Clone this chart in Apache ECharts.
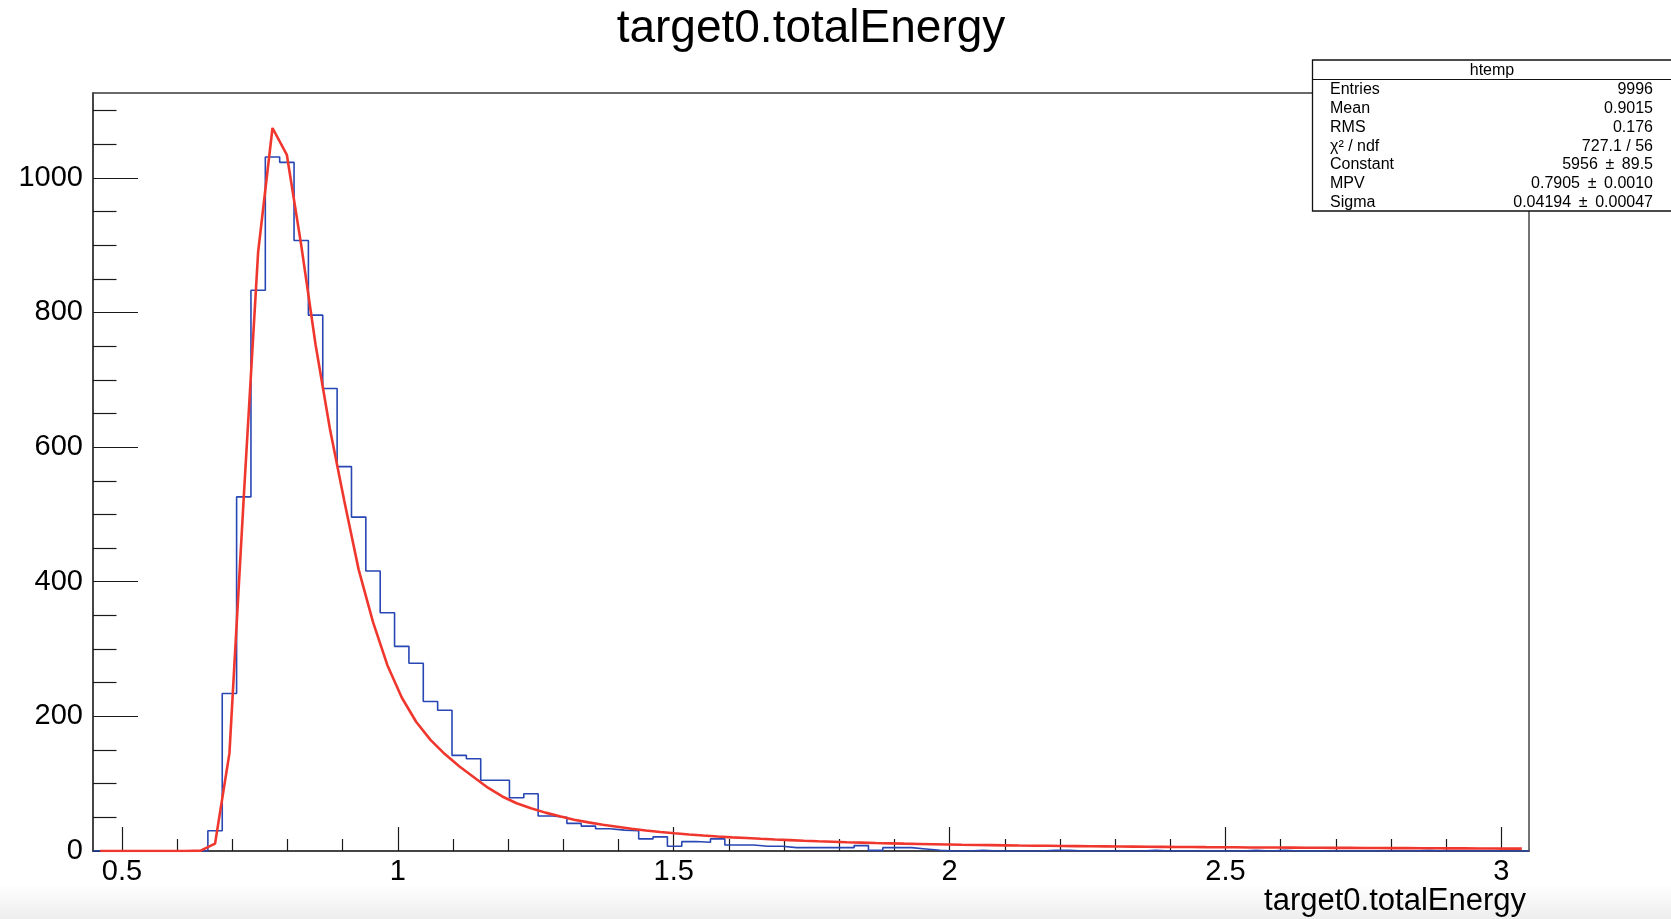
<!DOCTYPE html>
<html>
<head>
<meta charset="utf-8">
<title>target0.totalEnergy</title>
<script src="https://cdn.jsdelivr.net/npm/echarts@6/dist/echarts.min.js"></script>
<style>
  html, body { margin: 0; padding: 0; background: #ffffff; }
  #chart { width: 1671px; height: 919px; }
</style>
</head>
<body>
<div id="chart"></div>
<script>
// Histogram binning of target0.totalEnergy (100 equal bins)
const xMin = 0.4476;
const binWidth = 0.026024;

// Entries per bin
const counts = [
  0, 0, 0, 0, 0, 0, 0, 0, 30, 234,
  526, 833, 1031, 1023, 907, 796, 687, 571, 496, 416,
  354, 304, 279, 222, 209, 142, 137, 105, 105, 79,
  85, 52, 50, 41, 37, 33, 31, 30, 18, 21,
  7, 14, 13, 18, 9, 9, 7, 7, 5, 5,
  5, 5, 5, 8, 1, 5, 5, 3, 1, 0,
  0, 1, 0, 0, 0, 0, 1, 1, 0, 0,
  0, 0, 0, 1, 0, 0, 0, 0, 0, 0,
  1, 0, 1, 0, 0, 0, 0, 0, 0, 0,
  0, 0, 1, 0, 0, 0, 0, 0, 0, 0
];

// Landau fit evaluated at each bin centre
const fitValues = [
  0, 0, 0, 0, 0, 0, 0, 0.5, 11, 145,
  526, 890, 1074, 1034, 900, 752, 627, 520, 418, 340,
  276, 228, 192, 165, 144, 126, 110, 94, 81, 71,
  63.5, 57, 51.5, 46.5, 42.5, 39, 36, 33, 30.5, 28.3,
  26.3, 24.6, 23, 21.6, 20.3, 19.2, 18.1, 17.1, 16.2, 15.3,
  14.5, 13.8, 13.1, 12.5, 11.9, 11.4, 10.9, 10.5, 10.1, 9.7,
  9.3, 9.0, 8.7, 8.4, 8.1, 7.9, 7.7, 7.5, 7.3, 7.1,
  6.9, 6.7, 6.5, 6.3, 6.2, 6.0, 5.9, 5.7, 5.6, 5.5,
  5.3, 5.2, 5.1, 5.0, 4.9, 4.8, 4.7, 4.6, 4.5, 4.4,
  4.3, 4.2, 4.1, 4.0, 3.9, 3.9, 3.8, 3.7, 3.6, 3.6
];

// Axis ticks
const xMajorTicks = [0.5, 1, 1.5, 2, 2.5, 3];
const xTickLabels = ['0.5', '1', '1.5', '2', '2.5', '3'];
const yMajorTicks = [0, 200, 400, 600, 800, 1000];
const yTickLabels = ['0', '200', '400', '600', '800', '1000'];
const yMax = 1126;

// Statistics box
const statTitle = 'htemp';
const statNames = ['Entries', 'Mean', 'RMS', 'χ² / ndf', 'Constant', 'MPV', 'Sigma'];
const statValues = ['9996', '0.9015', '0.176', '727.1 / 56', '5956 \u2009±\u2009 89.5', '0.7905 \u2009±\u2009 0.0010', '0.04194 \u2009±\u2009 0.00047'];

const titleText = 'target0.totalEnergy';
const xTitleText = 'target0.totalEnergy';

// ---- derived series data ----
const nBins = counts.length;
const xMax = xMin + nBins * binWidth;
const histData = counts.map((c, i) => [xMin + i * binWidth, c]);
histData.push([xMax, counts[nBins - 1]]);
const fitData = fitValues.map((v, i) => [xMin + (i + 0.5) * binWidth, v]);

const xMinorTicks = [];
for (let k = 5; k <= 30; k++) {
  if (k % 5 !== 0) xMinorTicks.push(+(k * 0.1).toFixed(1));
}
const yMinorTicks = [];
for (let v = 50; v < yMax; v += 50) {
  if (v % 200 !== 0) yMinorTicks.push(v);
}

const FONT = '"Liberation Sans", Arial, Helvetica, sans-serif';
const AXIS_COLOR = '#3a3a3a';
const TICK_COLOR = '#1a1a1a';

const chart = echarts.init(document.getElementById('chart'), null, { renderer: 'canvas' });

const gridLeft = 93, gridRight = 142, gridTop = 93, gridBottom = 68;

function statGraphics() {
  const boxX = 1312.5, boxY = 60, boxW = 372, boxH = 151, headH = 19.5;
  const els = [
    {
      type: 'rect', z: 100,
      shape: { x: boxX, y: boxY, width: boxW, height: boxH },
      style: { fill: '#ffffff', stroke: '#111111', lineWidth: 1.3 }
    },
    {
      type: 'line', z: 101,
      shape: { x1: boxX, y1: boxY + headH, x2: boxX + boxW, y2: boxY + headH },
      style: { stroke: '#111111', lineWidth: 1.2 }
    },
    {
      type: 'text', z: 101,
      x: 1492, y: boxY + headH / 2 + 0.5,
      style: { text: statTitle, fill: '#000', font: '16px ' + FONT, align: 'center', verticalAlign: 'middle' }
    }
  ];
  const rowTop = 90, rowStep = 18.7;
  statNames.forEach((name, i) => {
    const y = rowTop + i * rowStep;
    els.push({
      type: 'text', z: 101, x: 1330, y: y,
      style: { text: name, fill: '#000', font: '16px ' + FONT, align: 'left', verticalAlign: 'middle' }
    });
    els.push({
      type: 'text', z: 101, x: 1653, y: y,
      style: { text: statValues[i], fill: '#000', font: '16px ' + FONT, align: 'right', verticalAlign: 'middle' }
    });
  });
  return els;
}

const option = {
  animation: false,
  backgroundColor: '#ffffff',
  grid: {
    left: gridLeft, right: gridRight, top: gridTop, bottom: gridBottom,
    show: true, borderColor: AXIS_COLOR, borderWidth: 1.4, backgroundColor: '#ffffff',
    containLabel: false, outerBoundsMode: 'none'
  },
  xAxis: [
    {
      type: 'value', min: xMin, max: xMax, position: 'bottom',
      axisLine: { show: true, onZero: false, lineStyle: { color: AXIS_COLOR, width: 1.6 } },
      axisTick: { show: true, inside: true, length: 24, customValues: xMajorTicks, lineStyle: { color: TICK_COLOR, width: 1.2 } },
      axisLabel: {
        show: true, customValues: xMajorTicks, margin: 6,
        formatter: v => xTickLabels[xMajorTicks.indexOf(+v.toFixed(1))] ?? '',
        color: '#000', fontSize: 29, fontFamily: FONT
      },
      splitLine: { show: false }
    },
    {
      type: 'value', min: xMin, max: xMax, position: 'bottom', gridIndex: 0,
      axisLine: { show: false, onZero: false },
      axisTick: { show: true, inside: true, length: 12, customValues: xMinorTicks, lineStyle: { color: TICK_COLOR, width: 1.2 } },
      axisLabel: { show: false },
      splitLine: { show: false }
    }
  ],
  yAxis: [
    {
      type: 'value', min: 0, max: yMax, position: 'left',
      axisLine: { show: true, onZero: false, lineStyle: { color: AXIS_COLOR, width: 1.6 } },
      axisTick: { show: true, inside: true, length: 45, customValues: yMajorTicks, lineStyle: { color: TICK_COLOR, width: 1.2 } },
      axisLabel: {
        show: true, customValues: yMajorTicks, margin: 10,
        formatter: v => yTickLabels[yMajorTicks.indexOf(Math.round(v))] ?? '',
        color: '#000', fontSize: 29, fontFamily: FONT
      },
      splitLine: { show: false }
    },
    {
      type: 'value', min: 0, max: yMax, position: 'left', gridIndex: 0,
      axisLine: { show: false, onZero: false },
      axisTick: { show: true, inside: true, length: 23.5, customValues: yMinorTicks, lineStyle: { color: TICK_COLOR, width: 1.2 } },
      axisLabel: { show: false },
      splitLine: { show: false }
    }
  ],
  series: [
    {
      name: 'htemp', type: 'line', xAxisIndex: 0, yAxisIndex: 0,
      data: histData, step: 'end', symbol: 'none', clip: true,
      lineStyle: { color: '#2847b4', width: 1.6 }, z: 3
    },
    {
      name: 'landau', type: 'line', xAxisIndex: 0, yAxisIndex: 0,
      data: fitData, smooth: false, symbol: 'none', clip: true,
      lineStyle: { color: '#f0372e', width: 2.6 }, z: 4
    }
  ],
  graphic: [
    {
      type: 'rect', z: -10, silent: true,
      shape: { x: 0, y: 884, width: 1671, height: 35 },
      style: {
        fill: new echarts.graphic.LinearGradient(0, 0, 0, 1, [
          { offset: 0, color: 'rgba(0,0,0,0)' },
          { offset: 1, color: 'rgba(0,0,0,0.07)' }
        ])
      }
    },
    {
      type: 'text', z: 50, x: 811, y: 29.5,
      style: { text: titleText, fill: '#000', font: '46px ' + FONT, align: 'center', verticalAlign: 'middle' }
    },
    {
      type: 'text', z: 50, x: 1526, y: 901,
      style: { text: xTitleText, fill: '#000', font: '31px ' + FONT, align: 'right', verticalAlign: 'middle' }
    }
  ].concat(statGraphics())
};

chart.setOption(option);
</script>
</body>
</html>
